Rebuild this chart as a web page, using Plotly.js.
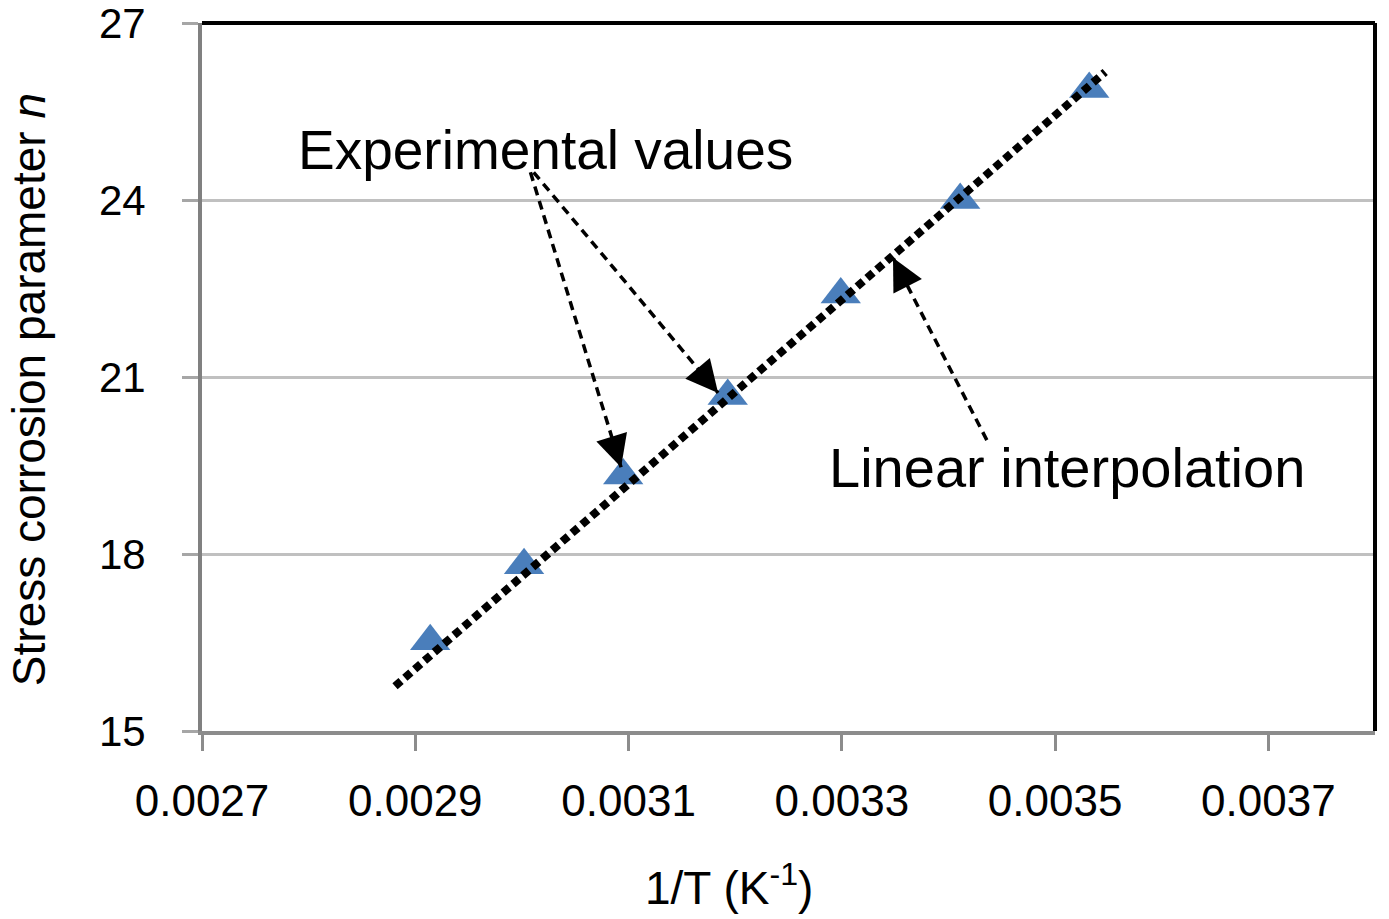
<!DOCTYPE html>
<html>
<head>
<meta charset="utf-8">
<script src="https://cdn.plot.ly/plotly-3.0.1.min.js"></script>
<style>
  html, body { margin: 0; padding: 0; background: #ffffff; }
  #chartDiv { width: 1389px; height: 919px; }
</style>
</head>
<body>
<div id="chartDiv"></div>
<script>
"use strict";

const inverseTemperature = [0.002914, 0.003002, 0.003095, 0.003193, 0.003299, 0.003411, 0.003532];
const corrosionParameter = [16.52, 17.81, 19.33, 20.68, 22.40, 24.00, 25.88];

// linear interpolation line, end points
const fitX = [0.002881, 0.003547];
const fitY = [15.76, 26.17];

// axis ticks
const xTickValues = [0.0027, 0.0029, 0.0031, 0.0033, 0.0035, 0.0037];
const xTickLabels = ["0.0027", "0.0029", "0.0031", "0.0033", "0.0035", "0.0037"];
const yTickValues = [15, 18, 21, 24, 27];
const yTickLabels = ["15", "18", "21", "24", "27"];

const fontFamily = "Liberation Sans, Arial, Helvetica, sans-serif";

// dashed callout arrows: [tailX, tailY, tipX, tipY]
const calloutArrows = [
    [0.003008, 24.47, 0.003093, 19.47],
    [0.003011, 24.47, 0.003184, 20.73],
    [0.003436, 19.93, 0.003348, 23.02]
];

const experimentalTrace = {
    x: inverseTemperature,
    y: corrosionParameter,
    type: "scatter",
    mode: "markers",
    marker: { symbol: "triangle-up", size: 35, color: "#4a7ebb" },
    hoverinfo: "x+y"
};

const fitTrace = {
    x: fitX,
    y: fitY,
    type: "scatter",
    mode: "lines",
    line: { color: "#000000", width: 8, dash: "8px,5px" },
    hoverinfo: "skip"
};

var shapes = [
    // black frame on top and right
    { type: "line", xref: "paper", yref: "paper", x0: 0, x1: 1, y0: 1, y1: 1, line: { color: "#000000", width: 4 } },
    { type: "line", xref: "paper", yref: "paper", x0: 1, x1: 1, y0: 0, y1: 1, line: { color: "#000000", width: 4 } }
];

var annotations = [
    {
        text: "Experimental values", xref: "paper", yref: "paper", x: 0.293, y: 0.821,
        xanchor: "center", yanchor: "middle",
        showarrow: false, font: { family: fontFamily, size: 55, color: "#000000" }
    },
    {
        text: "Linear interpolation", xref: "paper", yref: "paper", x: 0.737, y: 0.372,
        xanchor: "center", yanchor: "middle",
        showarrow: false, font: { family: fontFamily, size: 56, color: "#000000" }
    },
    {
        text: "1/T (K<sup>-1</sup>)", xref: "paper", yref: "paper", x: 0.449, y: -0.218,
        xanchor: "center", yanchor: "middle",
        showarrow: false, font: { family: fontFamily, size: 46, color: "#000000" }
    },
    {
        text: "Stress corrosion parameter <i>n</i>", xref: "paper", yref: "paper", x: -0.148, y: 0.482,
        xanchor: "center", yanchor: "middle",
        textangle: -90, showarrow: false, font: { family: fontFamily, size: 46, color: "#000000" }
    }
];

calloutArrows.forEach(function (a) {
    shapes.push({
        type: "line", xref: "x", yref: "y",
        x0: a[0], y0: a[1], x1: a[2], y1: a[3],
        line: { color: "#000000", width: 3.5, dash: "9px,6px" }
    });
    // short solid stub only, so just the head shows
    annotations.push({
        x: a[2], y: a[3], xref: "x", yref: "y",
        ax: a[2] + (a[0] - a[2]) * 0.08, ay: a[3] + (a[1] - a[3]) * 0.08,
        axref: "x", ayref: "y",
        text: "", showarrow: true,
        arrowhead: 2, arrowsize: 3.2, arrowwidth: 2, arrowcolor: "#000000"
    });
});

const layout = {
    width: 1389,
    height: 919,
    margin: { l: 202, r: 14, t: 23, b: 188 },
    paper_bgcolor: "#ffffff",
    plot_bgcolor: "#ffffff",
    showlegend: false,
    font: { family: fontFamily, size: 44, color: "#000000" },
    xaxis: {
        range: [0.0027, 0.0038],
        tickmode: "array",
        tickvals: xTickValues,
        ticktext: xTickLabels,
        ticks: "outside",
        ticklen: 16,
        tickwidth: 3,
        tickcolor: "#8c8c8c",
        ticklabelstandoff: 12,
        ticklabeloverflow: "allow",
        showgrid: false,
        zeroline: false,
        showline: true,
        linecolor: "#8c8c8c",
        linewidth: 4,
        tickfont: { family: fontFamily, size: 44, color: "#000000" }
    },
    yaxis: {
        range: [15, 27],
        tickmode: "array",
        tickvals: yTickValues,
        ticktext: yTickLabels,
        ticks: "outside",
        ticklen: 16,
        tickwidth: 3,
        tickcolor: "#a6a6a6",
        ticklabelstandoff: 28,
        ticklabeloverflow: "allow",
        showgrid: true,
        gridcolor: "#c0c0c0",
        gridwidth: 3,
        zeroline: false,
        showline: true,
        linecolor: "#808080",
        linewidth: 4,
        tickfont: { family: fontFamily, size: 42, color: "#000000" }
    },
    shapes: shapes,
    annotations: annotations
};

Plotly.newPlot("chartDiv", [experimentalTrace, fitTrace], layout, { staticPlot: true });
</script>
</body>
</html>
